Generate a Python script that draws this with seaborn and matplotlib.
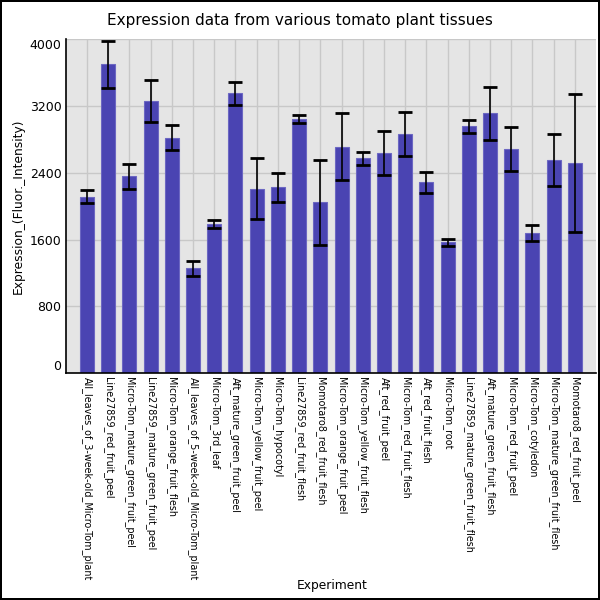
import numpy as np
import pandas as pd
import matplotlib
matplotlib.use("Agg")
import matplotlib.pyplot as plt
import seaborn as sns

# data
experiments = [
    "All_leaves_of_3-week-old_Micro-Tom_plant", "Line27859_red_fruit_peel",
    "Micro-Tom_mature_green_fruit_peel", "Line27859_mature_green_fruit_peel",
    "Micro-Tom_orange_fruit_flesh", "All_leaves_of_5-week-old_Micro-Tom_plant",
    "Micro-Tom_3rd_leaf", "Aft_mature_green_fruit_peel",
    "Micro-Tom_yellow_fruit_peel", "Micro-Tom_hypocotyl",
    "Line27859_red_fruit_flesh", "Momotaro8_red_fruit_flesh",
    "Micro-Tom_orange_fruit_peel", "Micro-Tom_yellow_fruit_flesh",
    "Aft_red_fruit_peel", "Micro-Tom_red_fruit_flesh",
    "Aft_red_fruit_flesh", "Micro-Tom_root",
    "Line27859_mature_green_fruit_flesh", "Aft_mature_green_fruit_flesh",
    "Micro-Tom_red_fruit_peel", "Micro-Tom_cotyledon",
    "Micro-Tom_mature_green_fruit_flesh", "Momotaro8_red_fruit_peel",
]
expression = [2113, 3695, 2355, 3255, 2820, 1256, 1780, 3350,
              2210, 2225, 3040, 2045, 2710, 2570, 2635, 2860,
              2285, 1565, 2955, 3110, 2685, 1675, 2550, 2515]
std_err = [80, 285, 145, 250, 150, 90, 48, 140,
           365, 175, 50, 505, 400, 75, 260, 265,
           123, 40, 75, 315, 265, 98, 310, 825]

df = pd.DataFrame({"Experiment": experiments, "Expression": expression, "err": std_err})

sns.set_style("darkgrid", {"axes.facecolor": "#E5E5E5", "grid.color": "#C8C8C8"})
plt.rcParams["font.family"] = ["DejaVu Sans"]
plt.rcParams.update({"text.color": "black", "axes.labelcolor": "black",
                     "xtick.color": "black", "ytick.color": "black"})

fig = plt.figure(figsize=(6, 6), dpi=100, facecolor="white", edgecolor="black", linewidth=1.5)
ax = fig.add_axes([0.1095, 0.378, 0.884, 0.557])

sns.barplot(data=df, x="Experiment", y="Expression", color="#4A44B2", saturation=1,
            width=0.66, errorbar=None, edgecolor="#6C67C2", linewidth=0.8, ax=ax, zorder=2)
ax.errorbar(np.arange(len(df)), df["Expression"], yerr=df["err"], fmt="none",
            ecolor="black", elinewidth=1.2, capsize=4.7, capthick=2, zorder=3)

ax.set_xlim(-1, len(df))
ax.set_ylim(0, 4000)
ax.set_yticks([0, 800, 1600, 2400, 3200, 4000])
ax.set_yticklabels(["0", "800", "1600", "2400", "3200", "4000"], fontsize=9)
ylabs = ax.get_yticklabels()
ylabs[0].set_va("bottom")
ylabs[-1].set_va("top")
ax.set_xticks(np.arange(len(df)))
ax.set_xticklabels(experiments, rotation=270, fontsize=6.9, va="top", ha="center")
ax.tick_params(length=0, pad=3)
ax.grid(True, color="#C8C8C8", linewidth=1)

for side in ["top", "right"]:
    ax.spines[side].set_visible(False)
for side in ["left", "bottom"]:
    ax.spines[side].set_visible(True)
    ax.spines[side].set_color("black")
    ax.spines[side].set_linewidth(1.2)

ax.set_xlabel("Experiment", fontsize=8.8)
ax.xaxis.set_label_coords(0.502, -0.615)
ax.set_ylabel("Expression_(Fluor._Intensity)", fontsize=8.8)
ax.yaxis.set_label_coords(-0.078, 0.5)
fig.suptitle("Expression data from various tomato plant tissues", fontsize=11, y=0.978)

plt.savefig("out.png", dpi=100, facecolor="white", edgecolor="black")
